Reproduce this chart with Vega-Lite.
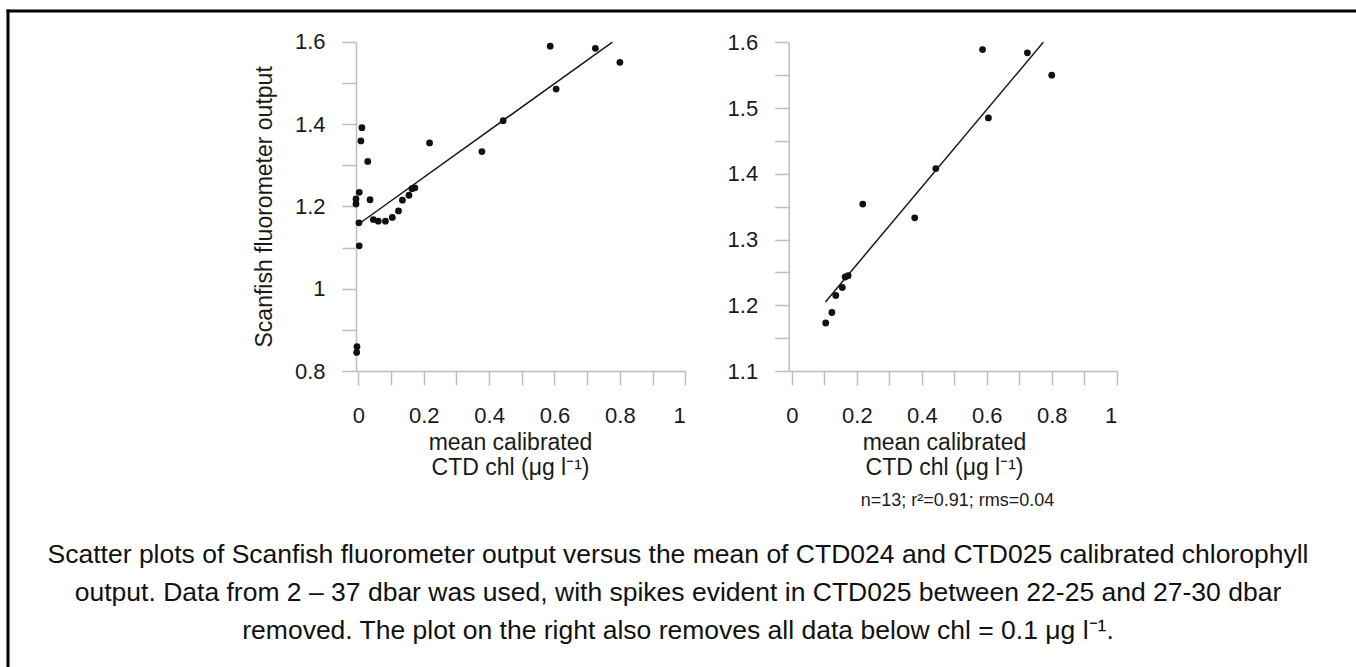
{
  "$schema": "https://vega.github.io/schema/vega-lite/v6.json",
  "width": 1356,
  "height": 667,
  "autosize": {"type": "none"},
  "padding": 0,
  "background": "white",
  "config": {
    "view": {"stroke": null},
    "font": "Liberation Sans",
    "axis": {
      "grid": false,
      "domainColor": "#bdbdbd",
      "tickColor": "#bdbdbd",
      "domainWidth": 1.5,
      "tickWidth": 1.5,
      "labelColor": "#1a1a1a",
      "titleColor": "#1a1a1a",
      "labelFont": "Liberation Sans",
      "titleFont": "Liberation Sans",
      "labelFontSize": 22,
      "titleFontSize": 23,
      "titleFontWeight": "normal",
      "tickSize": 14,
      "labelPadding": 18
    }
  },
  "title": {
    "text": [
      "Scatter plots of Scanfish fluorometer output versus the mean of CTD024 and CTD025 calibrated chlorophyll",
      "output. Data from 2 – 37 dbar was used, with spikes evident in CTD025 between 22-25 and 27-30 dbar",
      "removed. The plot on the right also removes all data below chl = 0.1 μg l⁻¹."
    ],
    "orient": "bottom",
    "anchor": "middle",
    "frame": "group",
    "offset": -128,
    "font": "Liberation Sans",
    "fontSize": 26.5,
    "fontWeight": "normal",
    "color": "#111111",
    "lineHeight": 38
  },
  "datasets": {
    "obs": [
      {"chl": -0.005, "scanfish": 0.845},
      {"chl": -0.004, "scanfish": 0.859},
      {"chl": 0.003, "scanfish": 1.104},
      {"chl": 0.002, "scanfish": 1.160},
      {"chl": -0.007, "scanfish": 1.206},
      {"chl": -0.007, "scanfish": 1.218},
      {"chl": 0.003, "scanfish": 1.234},
      {"chl": 0.008, "scanfish": 1.359},
      {"chl": 0.011, "scanfish": 1.391},
      {"chl": 0.029, "scanfish": 1.309},
      {"chl": 0.036, "scanfish": 1.216},
      {"chl": 0.046, "scanfish": 1.168},
      {"chl": 0.061, "scanfish": 1.164},
      {"chl": 0.083, "scanfish": 1.164},
      {"chl": 0.104, "scanfish": 1.173},
      {"chl": 0.123, "scanfish": 1.189},
      {"chl": 0.135, "scanfish": 1.215},
      {"chl": 0.155, "scanfish": 1.227},
      {"chl": 0.164, "scanfish": 1.243},
      {"chl": 0.173, "scanfish": 1.245},
      {"chl": 0.218, "scanfish": 1.354},
      {"chl": 0.378, "scanfish": 1.333},
      {"chl": 0.443, "scanfish": 1.408},
      {"chl": 0.587, "scanfish": 1.589},
      {"chl": 0.605, "scanfish": 1.485},
      {"chl": 0.725, "scanfish": 1.584},
      {"chl": 0.800, "scanfish": 1.550}
    ],
    "fitAll": [
      {"chl": 0.010, "scanfish": 1.162},
      {"chl": 0.777, "scanfish": 1.599}
    ],
    "fitHigh": [
      {"chl": 0.103, "scanfish": 1.205},
      {"chl": 0.774, "scanfish": 1.600}
    ],
    "frame": [{"v": 0}]
  },
  "layer": [
    {
      "layer": [
        {
          "data": {"name": "fitAll"},
          "mark": {"type": "line", "color": "#1a1a1a", "strokeWidth": 1.5},
          "encoding": {
            "x": {
              "field": "chl", "type": "quantitative",
              "scale": {"domain": [-0.007, 1], "range": [356, 685.3], "nice": false, "zero": false},
              "axis": {
                "orient": "bottom", "offset": -296,
                "values": [0, 0.1, 0.2, 0.3, 0.4, 0.5, 0.6, 0.7, 0.8, 0.9, 1],
                "format": "~g",
                "labelExpr": "round(datum.value*10) % 2 == 0 ? datum.label : ''",
                "labelPadding": 20,
                "title": ["mean calibrated", "CTD chl (μg l⁻¹)"],
                "titleLineHeight": 25,
                "titlePadding": 5,
                "titleX": 510
              }
            },
            "y": {
              "field": "scanfish", "type": "quantitative",
              "scale": {"domain": [0.8, 1.6], "range": [371, 41.7], "nice": false, "zero": false},
              "axis": {
                "orient": "left", "offset": -356,
                "values": [0.8, 0.9, 1, 1.1, 1.2, 1.3, 1.4, 1.5, 1.6],
                "format": "~g",
                "labelExpr": "round(datum.value*10) % 2 == 0 ? datum.label : ''",
                "labelPadding": 17,
                "title": "Scanfish fluorometer output",
                "titlePadding": 18
              }
            }
          }
        },
        {
          "data": {"name": "obs"},
          "mark": {"type": "circle", "color": "#111111", "opacity": 1, "size": 46},
          "encoding": {
            "x": {"field": "chl", "type": "quantitative"},
            "y": {"field": "scanfish", "type": "quantitative"}
          }
        }
      ]
    },
    {
      "layer": [
        {
          "data": {"name": "fitHigh"},
          "mark": {"type": "line", "color": "#1a1a1a", "strokeWidth": 1.5},
          "encoding": {
            "x": {
              "field": "chl", "type": "quantitative",
              "scale": {"domain": [-0.01, 1], "range": [788.7, 1116.7], "nice": false, "zero": false},
              "axis": {
                "orient": "bottom", "offset": -296,
                "values": [0, 0.1, 0.2, 0.3, 0.4, 0.5, 0.6, 0.7, 0.8, 0.9, 1],
                "format": "~g",
                "labelExpr": "round(datum.value*10) % 2 == 0 ? datum.label : ''",
                "labelPadding": 20,
                "title": ["mean calibrated", "CTD chl (μg l⁻¹)"],
                "titleLineHeight": 25,
                "titlePadding": 5,
                "titleX": 944
              }
            },
            "y": {
              "field": "scanfish", "type": "quantitative",
              "scale": {"domain": [1.1, 1.6], "range": [371, 42.3], "nice": false, "zero": false},
              "axis": {
                "orient": "left", "offset": -788.7,
                "values": [1.1, 1.15, 1.2, 1.25, 1.3, 1.35, 1.4, 1.45, 1.5, 1.55, 1.6],
                "format": "~g",
                "labelExpr": "round(datum.value*100) % 10 == 0 ? datum.label : ''",
                "labelPadding": 17,
                "title": null
              }
            }
          }
        },
        {
          "data": {"name": "obs"},
          "transform": [{"filter": "datum.chl >= 0.1"}],
          "mark": {"type": "circle", "color": "#111111", "opacity": 1, "size": 46},
          "encoding": {
            "x": {"field": "chl", "type": "quantitative"},
            "y": {"field": "scanfish", "type": "quantitative"}
          }
        }
      ]
    },
    {
      "data": {"name": "frame"},
      "mark": {"type": "point", "opacity": 0},
      "encoding": {
        "x": {
          "field": "v", "type": "quantitative",
          "scale": {"domain": [0, 1], "range": [6, 1356], "nice": false, "zero": false},
          "axis": {"orient": "top", "offset": -10.5, "domainColor": "#000000", "domainWidth": 3, "ticks": false, "labels": false, "title": null}
        },
        "y": {
          "field": "v", "type": "quantitative",
          "scale": {"domain": [0, 1], "range": [667, 9], "nice": false, "zero": false},
          "axis": {"orient": "left", "offset": -7.5, "domainColor": "#000000", "domainWidth": 3, "ticks": false, "labels": false, "title": null}
        }
      }
    },
    {
      "data": {"name": "frame"},
      "mark": {"type": "point", "opacity": 0},
      "encoding": {
        "x": {
          "field": "v", "type": "quantitative",
          "scale": {"domain": [0, 1], "range": [788.7, 1116.7], "nice": false, "zero": false},
          "axis": {
            "orient": "bottom", "offset": -176,
            "domain": false, "ticks": false, "labels": false,
            "title": "n=13; r²=0.91; rms=0.04",
            "titleFontSize": 18,
            "titlePadding": 0,
            "titleX": 957
          }
        }
      }
    }
  ],
  "resolve": {
    "scale": {"x": "independent", "y": "independent"},
    "axis": {"x": "independent", "y": "independent"}
  }
}
